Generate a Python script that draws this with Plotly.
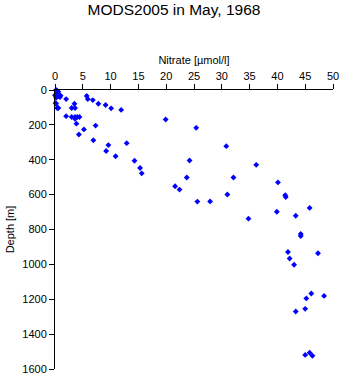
import plotly.graph_objects as go

# Nitrate profile samples, May 1968 (MODS2005)
nitrate = [
    0.2, 0.4, 0.6, 0.3, 0.5, 0.0, 0.6, 0.9, 0.2, 1.0, 2.0, 0.1, 0.2, 0.4, 0.6,
    3.5, 3.0, 3.6, 5.7, 5.9, 6.8, 7.8, 9.1, 10.1, 11.9, 19.9, 25.4, 30.8,
    2.0, 3.0, 3.6, 4.0, 4.4, 3.6, 3.85, 7.3, 5.2, 4.3, 6.9, 9.6, 9.2, 10.9,
    12.9, 14.3, 15.3, 15.6, 21.6, 24.2, 36.2, 23.7, 32.1, 40.1, 22.4, 31.0,
    25.6, 27.9, 41.4, 41.5, 45.8, 39.9, 43.3, 34.8, 44.2, 44.2, 41.9, 42.2,
    47.3, 43.0, 46.1, 48.4, 45.2, 45.0, 43.3, 45.0, 45.8, 46.3,
]
depth = [
    0, 5, 10, 15, 20, 30, 35, 40, 45, 32, 52, 75, 79, 103, 103,
    79, 103, 103, 34, 52, 58, 79, 86, 105, 114, 169, 217, 322,
    150, 155, 155, 155, 155, 165, 193, 204, 226, 255, 288, 316, 350, 380,
    305, 406, 447, 478, 552, 404, 429, 502, 502, 530, 571, 599,
    640, 639, 603, 614, 676, 698, 721, 738, 826, 837, 929, 966,
    936, 1002, 1167, 1181, 1195, 1255, 1270, 1519, 1507, 1524,
]

x_ticks = [0, 5, 10, 15, 20, 25, 30, 35, 40, 45, 50]
y_ticks = [0, 200, 400, 600, 800, 1000, 1200, 1400, 1600]

fig = go.Figure(
    go.Scatter(
        x=nitrate,
        y=depth,
        mode="markers",
        marker=dict(symbol="diamond", size=4.5, color="#0000ff", line=dict(width=0)),
        cliponaxis=False,
        showlegend=False,
    )
)

axis_font = dict(family="Liberation Sans, Arial, sans-serif", size=11, color="black")

fig.update_layout(
    width=348,
    height=384,
    margin=dict(l=55, r=9, t=90, b=9),
    paper_bgcolor="white",
    plot_bgcolor="white",
    font=axis_font,
    title=dict(
        text="MODS2005 in May, 1968",
        x=0.5,
        xanchor="center",
        y=1 - 10 / 384,
        yanchor="middle",
        font=dict(family="Liberation Sans, Arial, sans-serif", size=15.5, color="black"),
    ),
    xaxis=dict(
        side="top",
        range=[0, 50],
        tickvals=x_ticks,
        ticks="outside",
        ticklen=5,
        tickcolor="black",
        showline=True,
        linecolor="black",
        linewidth=1,
        showgrid=False,
        zeroline=False,
        title=dict(text="Nitrate [µmol/l]", standoff=2, font=axis_font),
    ),
    yaxis=dict(
        range=[1600, 0],
        tickvals=y_ticks,
        ticks="outside",
        ticklen=5,
        tickcolor="black",
        showline=True,
        linecolor="black",
        linewidth=1,
        showgrid=False,
        zeroline=False,
        title=dict(text="Depth [m]", standoff=5, font=axis_font),
    ),
)

fig.write_html("out.html")
